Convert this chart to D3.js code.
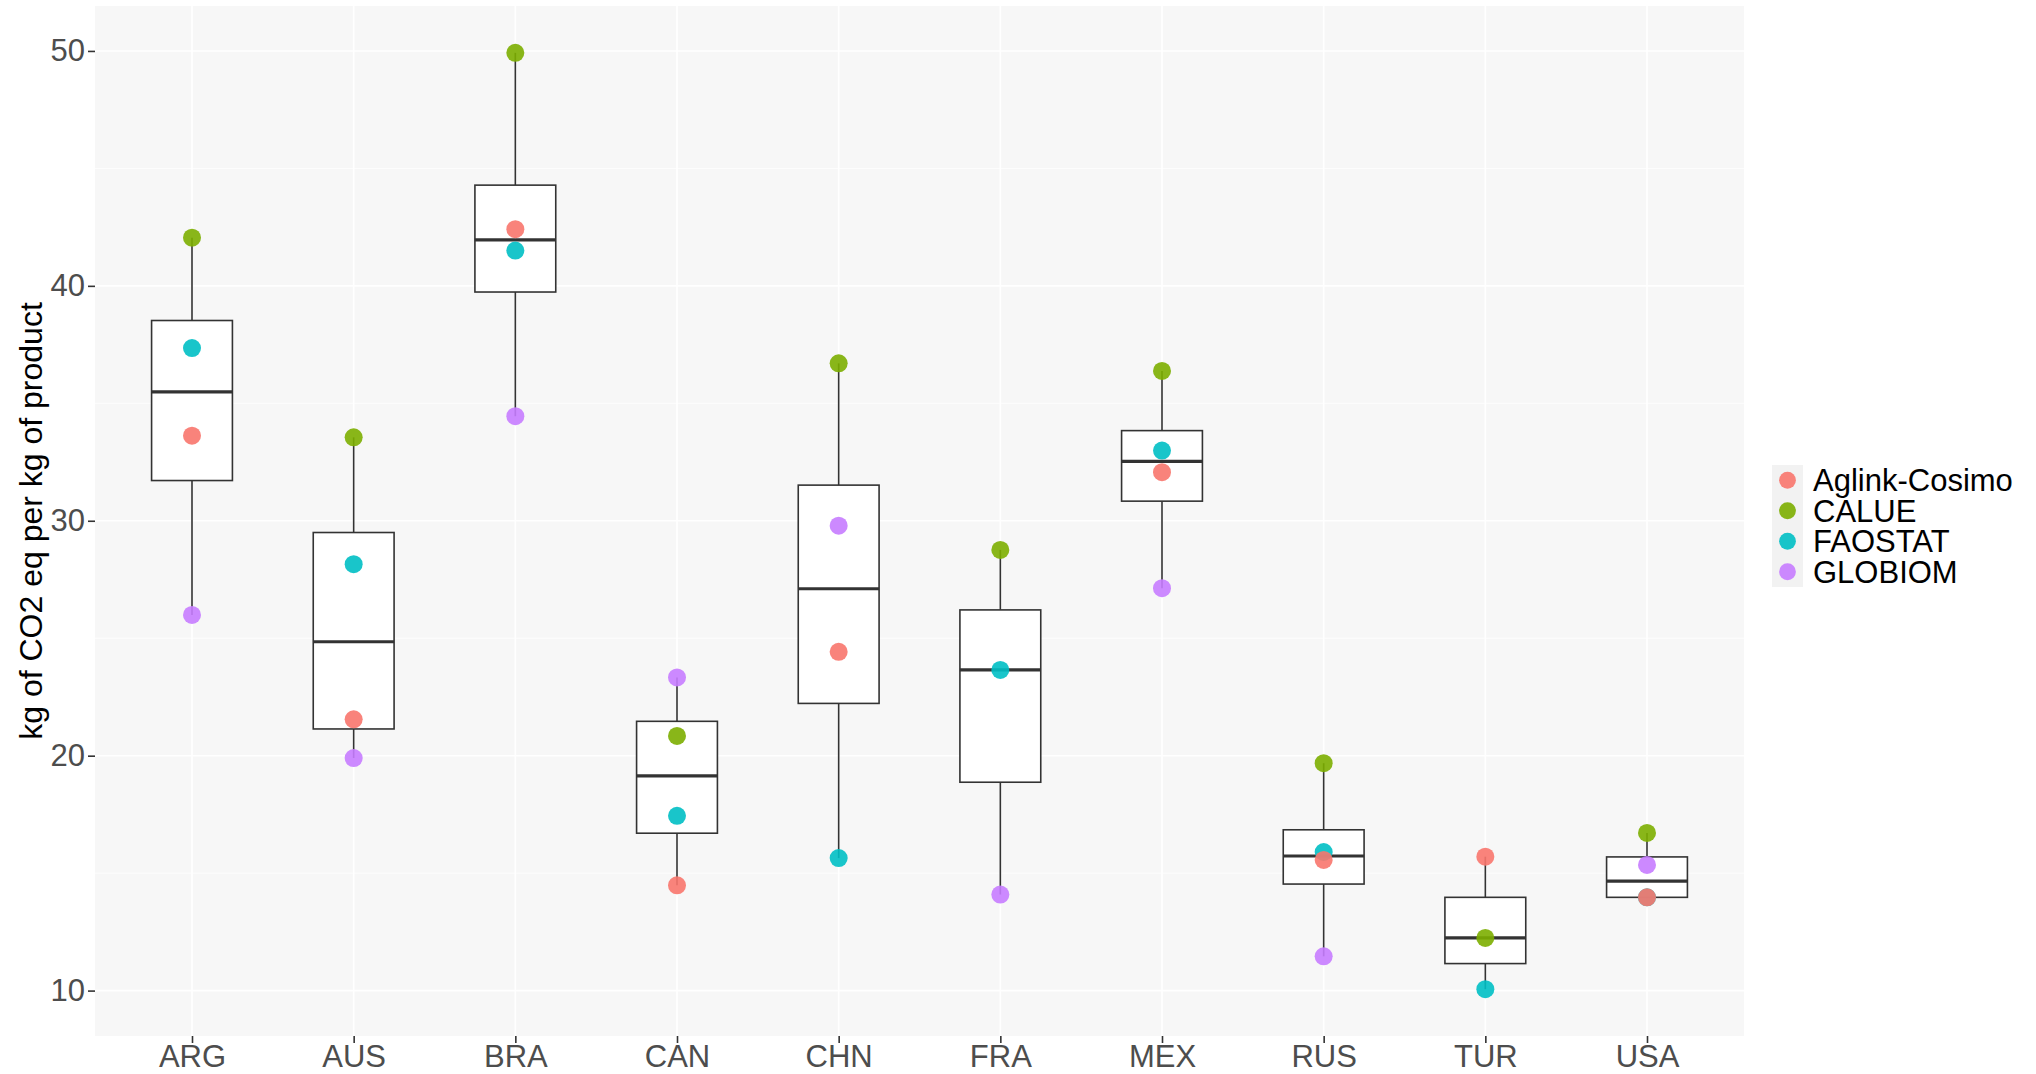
<!DOCTYPE html>
<html>
<head>
<meta charset="utf-8">
<script src="https://cdn.jsdelivr.net/npm/d3@7"></script>
<style>
  html, body { margin: 0; padding: 0; background: #ffffff; }
  svg { display: block; font-family: "Liberation Sans", Arial, Helvetica, sans-serif; }
</style>
</head>
<body>
<svg id="chart" width="2036" height="1074"></svg>
<script>
// Countries on the x axis
const countries = ["ARG", "AUS", "BRA", "CAN", "CHN", "FRA", "MEX", "RUS", "TUR", "USA"];

// Emission intensity (kg CO2 eq per kg of product) by data source; null = not available
const aglinkCosimo = [33.62, 21.55, 42.41, 14.48, 24.42, null, 32.07, 15.56, 15.70, 13.97];
const calue        = [42.05, 33.55, 49.92, 20.84, 36.70, 28.76, 36.38, 19.68, 12.24, 16.71];
const faostat      = [37.35, 28.15, 41.50, 17.44, 15.64, 23.65, 32.99, 15.90, 10.06, 13.97];
const globiom      = [25.99, 19.90, 34.45, 23.33, 29.79, 14.09, 27.13, 11.46, null, 15.35];

const sourceNames  = ["Aglink-Cosimo", "CALUE", "FAOSTAT", "GLOBIOM"];
const sourceColors = ["#F8766D", "#7CAE00", "#00BFC4", "#C77CFF"];
const yTicks = [10, 20, 30, 40, 50];
const yMinorTicks = [15, 25, 35, 45];
const yTitle = "kg of CO2 eq per kg of product";

const seriesValues = [aglinkCosimo, calue, faostat, globiom];

// long-format records
const records = [];
seriesValues.forEach((vals, si) => {
  vals.forEach((v, ci) => {
    if (v != null) records.push({ country: countries[ci], source: sourceNames[si], value: v });
  });
});

const svg = d3.select("#chart");
const panel = { left: 95, right: 1744, top: 6, bottom: 1036 };

const x = d3.scalePoint().domain(countries).range([panel.left, panel.right]).padding(0.6);
const ext = d3.extent(records, d => d.value);
const pad = (ext[1] - ext[0]) * 0.05;
const y = d3.scaleLinear().domain([ext[0] - pad, ext[1] + pad]).range([panel.bottom, panel.top]);
const color = d3.scaleOrdinal().domain(sourceNames).range(sourceColors);

// panel background
svg.append("rect")
  .attr("x", panel.left).attr("y", panel.top)
  .attr("width", panel.right - panel.left).attr("height", panel.bottom - panel.top)
  .attr("fill", "#F7F7F7");

// grid lines
const grid = svg.append("g");
grid.selectAll("line.minor").data(yMinorTicks).join("line")
  .attr("x1", panel.left).attr("x2", panel.right)
  .attr("y1", d => y(d)).attr("y2", d => y(d))
  .attr("stroke", "#ffffff").attr("stroke-width", 0.8);
grid.selectAll("line.majory").data(yTicks).join("line")
  .attr("x1", panel.left).attr("x2", panel.right)
  .attr("y1", d => y(d)).attr("y2", d => y(d))
  .attr("stroke", "#ffffff").attr("stroke-width", 1.6);
grid.selectAll("line.majorx").data(countries).join("line")
  .attr("x1", d => x(d)).attr("x2", d => x(d))
  .attr("y1", panel.top).attr("y2", panel.bottom)
  .attr("stroke", "#ffffff").attr("stroke-width", 1.6);

// box statistics per country (R type-7 quantiles == d3.quantile)
const boxWidth = x.step() * 0.5;
const stats = countries.map(c => {
  const v = records.filter(r => r.country === c).map(r => r.value).sort(d3.ascending);
  return {
    country: c,
    q1: d3.quantile(v, 0.25),
    med: d3.quantile(v, 0.5),
    q3: d3.quantile(v, 0.75),
    min: v[0],
    max: v[v.length - 1]
  };
});

const boxColor = "#333333";
const boxes = svg.append("g").selectAll("g").data(stats).join("g");
boxes.append("line")
  .attr("x1", d => x(d.country)).attr("x2", d => x(d.country))
  .attr("y1", d => y(d.max)).attr("y2", d => y(d.q3))
  .attr("stroke", boxColor).attr("stroke-width", 1.6);
boxes.append("line")
  .attr("x1", d => x(d.country)).attr("x2", d => x(d.country))
  .attr("y1", d => y(d.q1)).attr("y2", d => y(d.min))
  .attr("stroke", boxColor).attr("stroke-width", 1.6);
boxes.append("rect")
  .attr("x", d => x(d.country) - boxWidth / 2)
  .attr("y", d => y(d.q3))
  .attr("width", boxWidth)
  .attr("height", d => y(d.q1) - y(d.q3))
  .attr("fill", "#ffffff").attr("stroke", boxColor).attr("stroke-width", 1.6);
boxes.append("line")
  .attr("x1", d => x(d.country) - boxWidth / 2).attr("x2", d => x(d.country) + boxWidth / 2)
  .attr("y1", d => y(d.med)).attr("y2", d => y(d.med))
  .attr("stroke", boxColor).attr("stroke-width", 3.2);

// points, drawn so that Aglink-Cosimo sits above FAOSTAT where they coincide
const drawOrder = ["FAOSTAT", "GLOBIOM", "CALUE", "Aglink-Cosimo"];
const ordered = records.slice().sort((a, b) => drawOrder.indexOf(a.source) - drawOrder.indexOf(b.source));
svg.append("g").selectAll("circle").data(ordered).join("circle")
  .attr("cx", d => x(d.country))
  .attr("cy", d => y(d.value))
  .attr("r", 9)
  .attr("fill", d => color(d.source))
  .attr("fill-opacity", 0.9);

// y axis
const yAxis = svg.append("g").attr("transform", `translate(${panel.left},0)`)
  .call(d3.axisLeft(y).tickValues(yTicks).tickSize(7).tickPadding(3));
yAxis.select(".domain").remove();
yAxis.selectAll(".tick line").attr("stroke", "#333333").attr("stroke-width", 1.6);
yAxis.selectAll(".tick text")
  .attr("fill", "#4D4D4D").attr("font-size", 31)
  .attr("font-family", "'Liberation Sans', Arial, sans-serif");

// x axis
const xAxis = svg.append("g").attr("transform", `translate(0,${panel.bottom})`)
  .call(d3.axisBottom(x).tickSize(7).tickPadding(2));
xAxis.select(".domain").remove();
xAxis.selectAll(".tick line").attr("stroke", "#333333").attr("stroke-width", 1.6);
xAxis.selectAll(".tick text")
  .attr("fill", "#4D4D4D").attr("font-size", 31)
  .attr("font-family", "'Liberation Sans', Arial, sans-serif");

// y axis title
svg.append("text")
  .attr("transform", `translate(42,${(panel.top + panel.bottom) / 2}) rotate(-90)`)
  .attr("text-anchor", "middle")
  .attr("fill", "#000000")
  .attr("font-size", 32)
  .text(yTitle);

// legend
const legend = svg.append("g").attr("transform", "translate(1772,465)");
const keySize = 30.5;
legend.append("rect")
  .attr("x", 0).attr("y", 0)
  .attr("width", 31).attr("height", keySize * sourceNames.length)
  .attr("fill", "#F2F2F2");
const items = legend.selectAll("g.item").data(sourceNames).join("g")
  .attr("transform", (d, i) => `translate(0,${i * keySize + keySize / 2})`);
items.append("circle")
  .attr("cx", 15.5).attr("cy", 0).attr("r", 8.4)
  .attr("fill", d => color(d)).attr("fill-opacity", 0.9);
items.append("text")
  .attr("x", 41).attr("y", 0).attr("dy", "0.35em")
  .attr("fill", "#000000").attr("font-size", 31)
  .text(d => d);
</script>
</body>
</html>
